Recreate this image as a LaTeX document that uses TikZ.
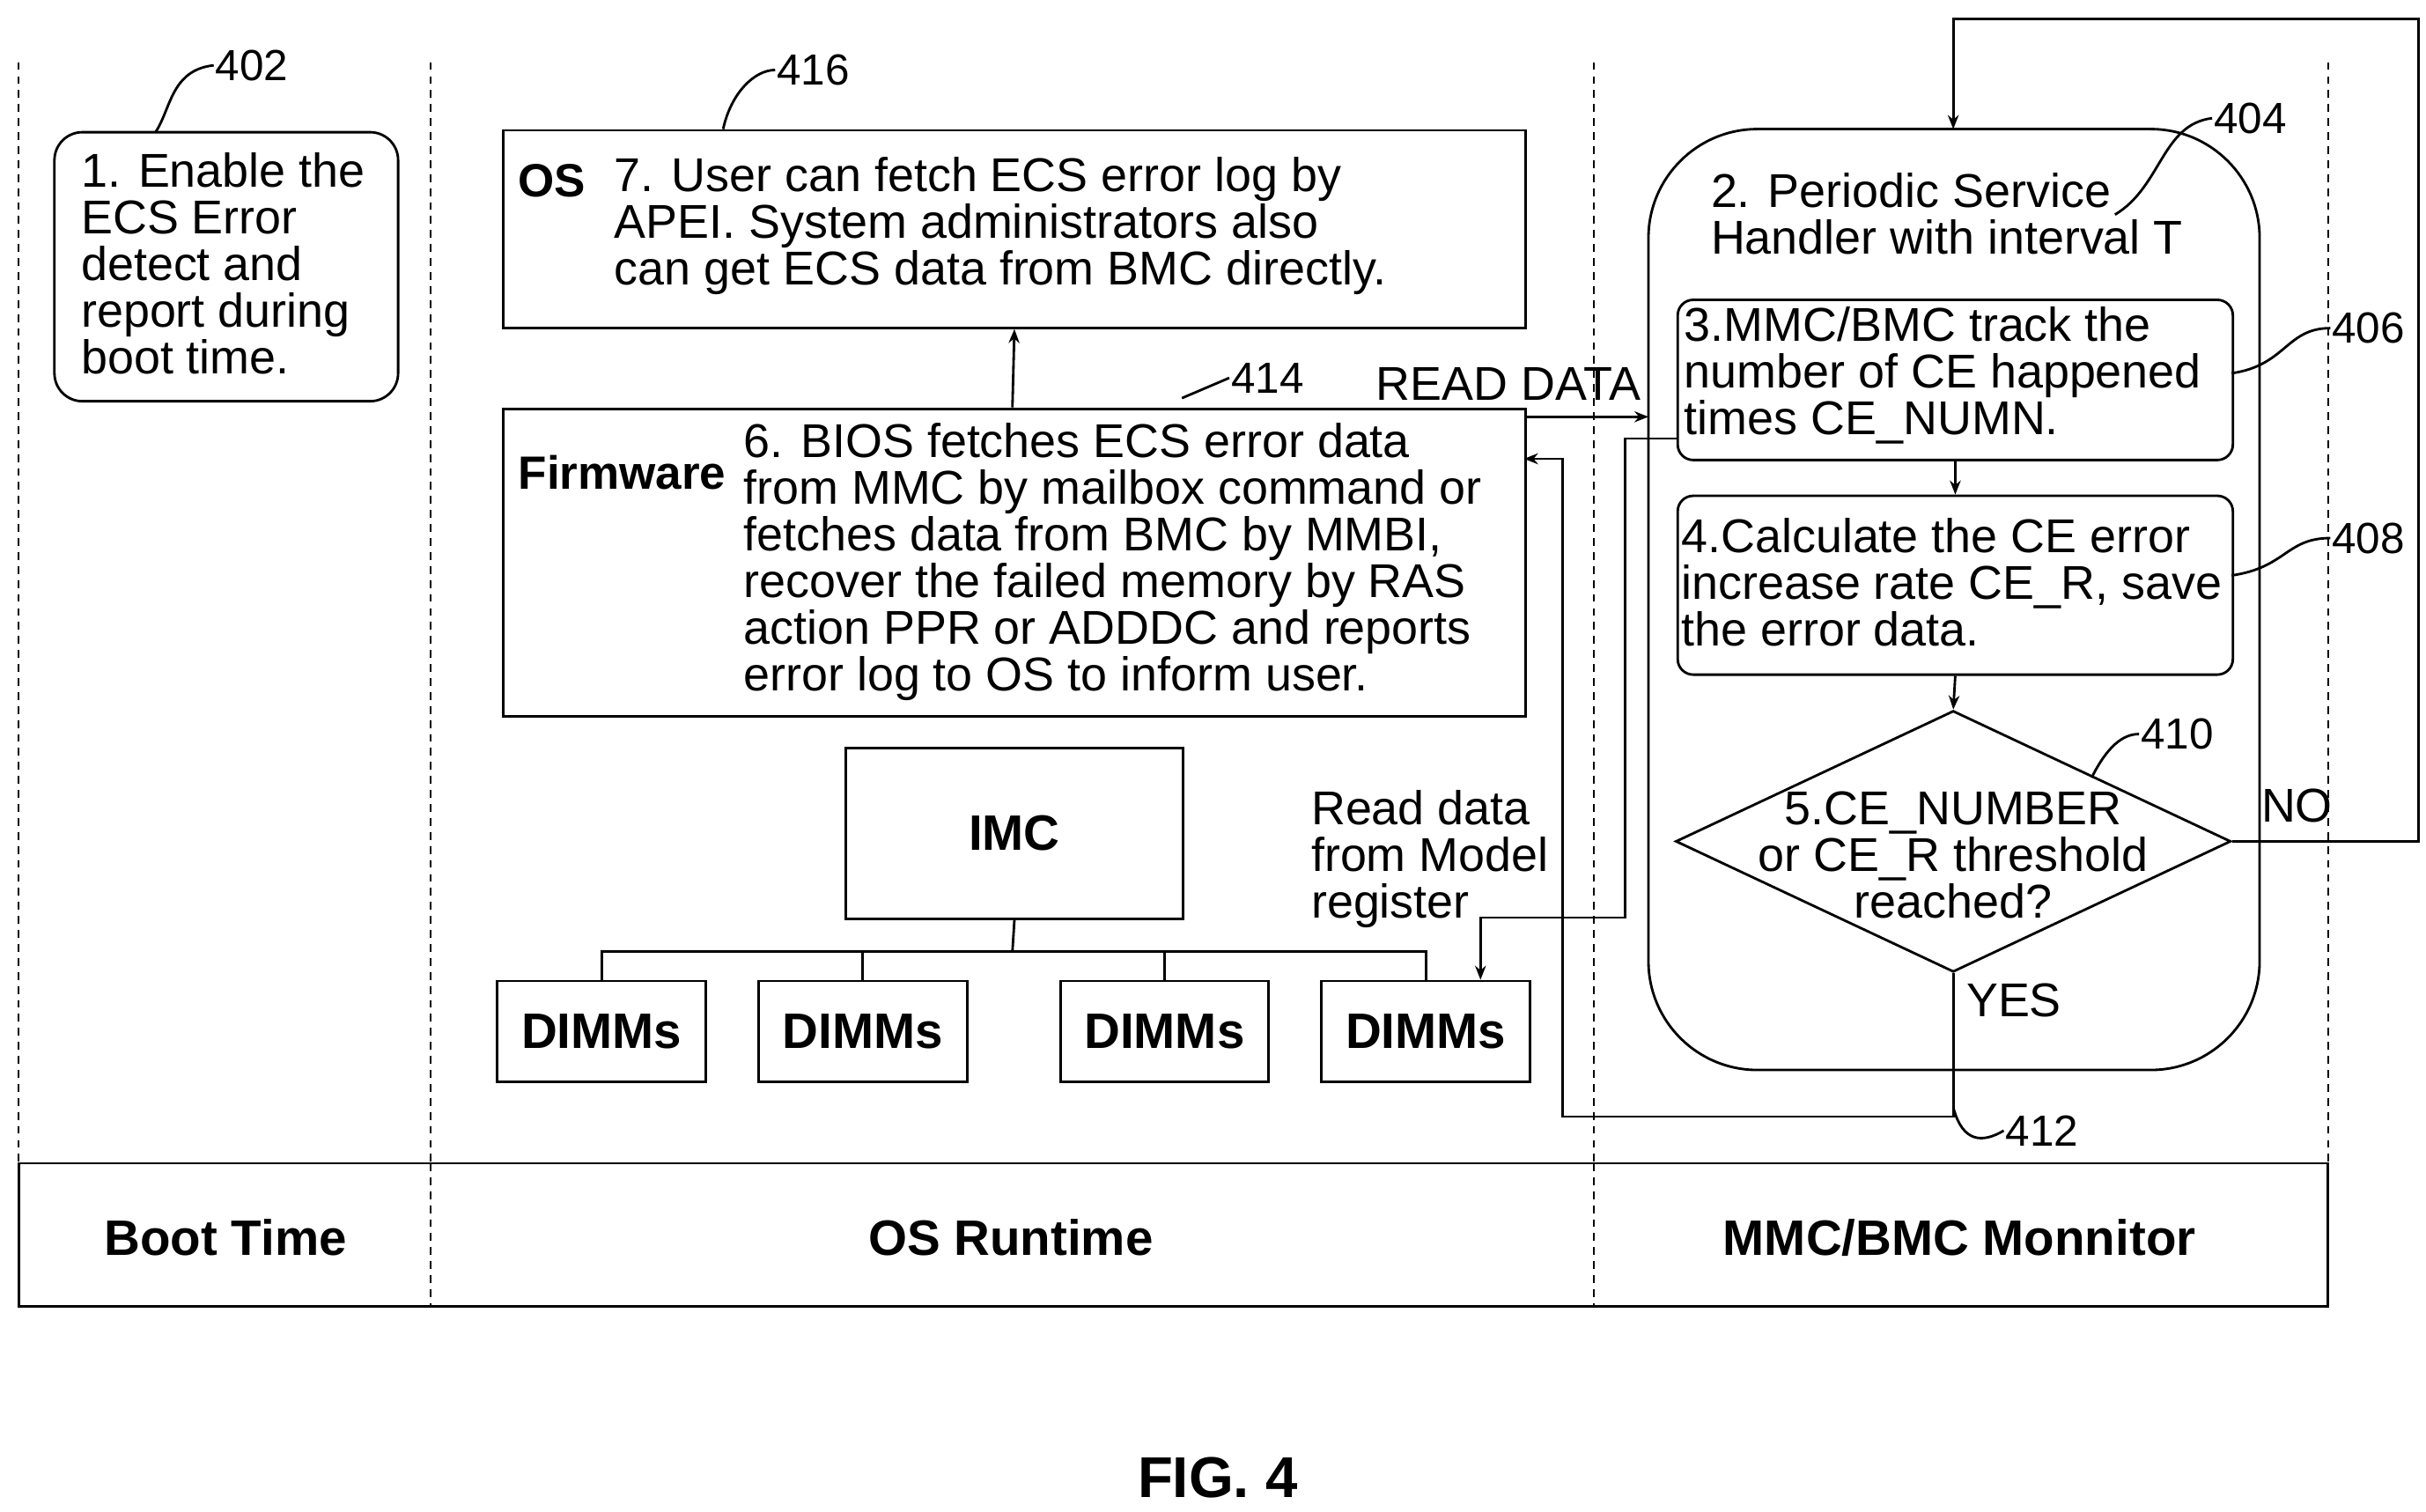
\documentclass[tikz,border=0pt]{standalone}
\usepackage{fontspec}
\setmainfont{Liberation Sans}
\usetikzlibrary{shapes.geometric,arrows.meta}
\begin{document}
\begin{tikzpicture}[x=1pt,y=-1pt,
  ln/.style={line width=1.6pt},
  dsh/.style={line width=1.2pt,dash pattern=on 5pt off 4pt},
  box/.style={ln,draw,rectangle},
  txt/.style={font=\fontsize{30.5}{30}\selectfont,align=left,inner sep=0pt},
  btx/.style={font=\fontsize{32}{34}\selectfont\bfseries,inner sep=0pt},
  lbl/.style={font=\fontsize{28}{30}\selectfont,inner sep=1pt},
  arr/.style={ln,-{Stealth[length=9pt,width=7pt]}}]
\useasboundingbox (0,0) rectangle (1560,972);
% frame
\foreach \x/\n in {12/a,277/b,1025/c,1497/d} \draw[dsh] (\x,40) -- (\x,748);
\draw[ln] (12,748) rectangle (1497,840);
\draw[dsh] (277,748) -- (277,840);
\draw[dsh] (1025,748) -- (1025,840);
\node[btx] (bt) at (145,796) {Boot Time};
\node[btx] (osr) at (650,796) {OS Runtime};
\node[btx] (mm) at (1260,796) {MMC/BMC Monnitor};
% 402
\draw[ln,rounded corners=18pt] (35,85) rectangle (256,258);
\node[txt,anchor=north west] (t402) at (52,98) {1. Enable the\\ECS Error\\detect and\\report during\\boot time.};
\node[lbl] (l402) at (162,42) {402};
\draw[ln] (100,85) .. controls (110,70) and (110,45) .. (l402.west);
% OS box
\node[box,minimum width=657pt,minimum height=127pt,anchor=north west] (os) at (323,83) {};
\node[btx,font=\fontsize{30}{32}\selectfont\bfseries] (osl) at (355,116) {OS};
\node[txt,anchor=north west] (ost) at (395,101) {7. User can fetch ECS error log by\\APEI. System administrators also\\can get ECS data from BMC directly.};
\node[lbl] (l416) at (523,45) {416};
\draw[ln] (465,83) .. controls (470,60) and (485,45) .. (l416.west);
% Firmware box
\node[box,minimum width=657pt,minimum height=198pt,anchor=north west] (fw) at (323,262) {};
\node[btx,font=\fontsize{30}{32}\selectfont\bfseries] (fwl) at (400,304) {Firmware};
\node[txt,anchor=north west] (fwt) at (478,272) {6. BIOS fetches ECS error data\\from MMC by mailbox command or\\fetches data from BMC by MMBI,\\recover the failed memory by RAS\\action PPR or ADDDC and reports\\error log to OS to inform user.};
\node[lbl] (l414) at (815,243) {414};
\draw[ln] (760,256) -- (l414.west);
\draw[arr] (651,262) -- (os.south);
% IMC & DIMMs
\node[box,minimum width=217pt,minimum height=110pt,anchor=north west] (imc) at (543,480) {};
\node[btx] at (imc.center) {IMC};
\foreach \x/\n in {319/d1,487/d2,681/d3,849/d4}{
  \node[box,minimum width=134pt,minimum height=65pt,anchor=north west] (\n) at (\x,630) {};
  \node[btx] at (\n.center) {DIMMs};}
\coordinate (tj) at (651,612);
\draw[ln] (imc.south) -- (tj);
\draw[ln] (d1.north) |- (tj) -| (d4.north);
\draw[ln] (d2.north) -- (d2.north |- tj);
\draw[ln] (d3.north) -- (d3.north |- tj);
\node[txt,anchor=north west] (rd) at (843,508) {Read data\\from Model\\register};
% MMC/BMC
\draw[ln,rounded corners=70pt] (1060,83) rectangle (1453,688);
\node[txt,anchor=north west] (t404) at (1100,111) {2. Periodic Service\\Handler with interval T};
\node[lbl] (l404) at (1447,76) {404};
\draw[ln] (1360,138) .. controls (1390,120) and (1390,80) .. (l404.west);
\node[box,rounded corners=10pt,minimum width=357pt,minimum height=103pt,anchor=north west] (b406) at (1078,192) {};
\node[txt,anchor=north west] at (1083,197) {3.MMC/BMC track the\\number of CE happened\\times CE\_NUMN.};
\node[box,rounded corners=10pt,minimum width=357pt,minimum height=115pt,anchor=north west] (b408) at (1078,318) {};
\node[txt,anchor=north west] at (1081,333) {4.Calculate the CE error\\increase rate CE\_R, save\\the error data.};
\node[ln,draw,diamond,aspect=2.1,minimum width=357pt,minimum height=168pt,inner sep=0pt] (dia) at (1256,541) {};
\node[txt,align=center] at (1256,550) {5.CE\_NUMBER\\or CE\_R threshold\\reached?};
\draw[arr] (b406.south) -- (b408.north);
\draw[arr] (b408.south) -- (dia.north);
\node[lbl] (l406) at (1523,211) {406};
\draw[ln] (1435,240) .. controls (1470,235) and (1470,211) .. (l406.west);
\node[lbl] (l408) at (1523,346) {408};
\draw[ln] (1435,370) .. controls (1470,365) and (1470,346) .. (l408.west);
\node[lbl] (l410) at (1400,472) {410};
\draw[ln] (1345,500) .. controls (1355,480) and (1365,472) .. (l410.west);
% NO loop
\node[txt] (no) at (1477,518) {NO};
\coordinate (n1) at (1555,541);
\coordinate (n2) at (1555,12);
\coordinate (n3) at (1256,12);
\draw[arr] (dia.east) -- (n1) -- (n2) -- (n3) -- (1256,83);
% YES
\node[txt] (yes) at (1295,643) {YES};
\coordinate (y1) at (1256,718);
\coordinate (y2) at (1005,718);
\coordinate (y3) at (1005,295);
\draw[arr] (dia.south) -- (y1) -- (y2) -- (y3) -- (980,295);
\node[lbl] (l412) at (1313,727) {412};
\draw[ln] (1256,712) .. controls (1262,735) and (1275,735) .. (l412.west);
% READ DATA
\node[txt] (rdd) at (970,247) {READ DATA};
\draw[arr] (980,268) -- (1060,268);
\coordinate (r1) at (1045,282);
\coordinate (r2) at (1045,590);
\coordinate (r3) at (952,590);
\draw[arr] (1078,282) -- (r1) -- (r2) -- (r3) -- (952,630);
\node[font=\fontsize{37}{40}\selectfont\bfseries] (fig) at (783,950) {FIG. 4};
\end{tikzpicture}
\end{document}
